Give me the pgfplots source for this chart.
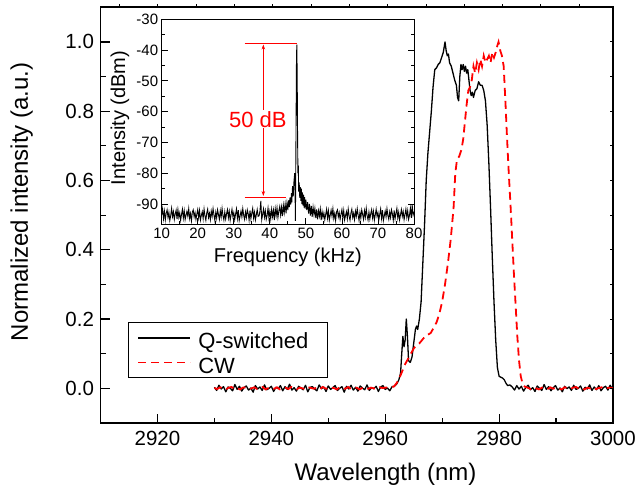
\documentclass[border=0pt]{standalone}
\usepackage{fontspec}
\setmainfont{Liberation Sans}
\usepackage{pgfplots}
\pgfplotsset{compat=1.18}
\usetikzlibrary{arrows.meta}

\newcommand{\tickfont}{\fontsize{20.5pt}{24pt}\selectfont}
\newcommand{\labfont}{\fontsize{24pt}{28pt}\selectfont}
\newcommand{\legfont}{\fontsize{22pt}{26pt}\selectfont}
\newcommand{\itickfont}{\fontsize{15pt}{18pt}\selectfont}
\newcommand{\ilabfont}{\fontsize{20pt}{24pt}\selectfont}
\newcommand{\legtext}[1]{\makebox[128pt][l]{\rule[-5.65pt]{0pt}{28.7pt}\hspace*{7pt}#1}}

\begin{document}
\begin{tikzpicture}
% main spectrum
\begin{axis}[
    at={(0pt,0pt)}, anchor=south west,
    scale only axis, width=512.5pt, height=415.7pt,
    xmin=2910, xmax=3000, ymin=-0.1, ymax=1.1,
    xtick={2920,2940,2960,2980,3000},
    ytick={0,0.2,0.4,0.6,0.8,1.0},
    minor x tick num=1, minor y tick num=1,
    xtick pos=bottom, ytick pos=left,
    tick align=inside,
    major tick length=9pt, minor tick length=5pt,
    tick style={black, line width=1.2pt},
    axis line style={line width=1.6pt},
    /pgf/number format/assume math mode=true,
    xticklabel style={font=\tickfont, yshift=-5pt, /pgf/number format/1000 sep={}},
    yticklabel style={font=\tickfont, xshift=-3pt, /pgf/number format/fixed,
        /pgf/number format/fixed zerofill, /pgf/number format/precision=1},
    xlabel={Wavelength (nm)}, ylabel={Normalized intensity (a.u.)},
    label style={font=\labfont},
    xlabel style={at={(axis description cs:0.556,-0.1245)}, anchor=center},
    ylabel style={at={(axis description cs:-0.1538,0.532)}, anchor=center},
    legend style={at={(axis description cs:0.0542,0.1075)}, anchor=south west,
        draw=black, line width=1pt, font=\legfont, inner xsep=8.7pt, inner ysep=2.95pt,
        row sep=0pt, nodes={inner sep=0pt}},
    legend cell align=left,
    legend image code/.code={\draw[#1] (0pt,0pt) -- (52pt,0pt);},
]
\addplot[black, line width=1.3pt, line join=round] coordinates {
(2930.0,0.003) (2930.4,-0.006) (2930.8,0.009) (2931.2,-0.002) (2931.6,0.005)
(2932.0,-0.010) (2932.4,0.004) (2932.8,0.000) (2933.2,-0.007) (2933.6,0.011)
(2934.0,-0.003) (2934.4,0.006) (2934.8,-0.008) (2935.2,0.002) (2935.6,0.007)
(2936.0,-0.005) (2936.4,0.001) (2936.8,-0.011) (2937.2,0.008) (2937.6,-0.002)
(2938.0,0.004) (2938.4,-0.006) (2938.8,0.010) (2939.2,-0.004) (2939.6,0.000)
(2940.0,0.006) (2940.4,-0.009) (2940.8,0.003) (2941.2,-0.001) (2941.6,0.008)
(2942.0,-0.007) (2942.4,0.005) (2942.8,-0.003) (2943.2,0.012) (2943.6,-0.005)
(2944.0,0.002) (2944.4,-0.008) (2944.8,0.006) (2945.2,0.001) (2945.6,-0.004)
(2946.0,0.009) (2946.4,-0.010) (2946.8,0.003) (2947.2,0.005) (2947.6,-0.002)
(2948.0,-0.007) (2948.4,0.010) (2948.8,-0.001) (2949.2,0.004) (2949.6,-0.009)
(2950.0,0.007) (2950.4,-0.003) (2950.8,0.002) (2951.2,0.008) (2951.6,-0.006)
(2952.0,0.000) (2952.4,0.005) (2952.8,-0.011) (2953.2,0.006) (2953.6,-0.002)
(2954.0,0.009) (2954.4,-0.005) (2954.8,0.003) (2955.2,-0.008) (2955.6,0.007)
(2956.0,0.001) (2956.4,-0.004) (2956.8,0.010) (2957.2,-0.006) (2957.6,0.002)
(2958.0,-0.001) (2958.4,0.006) (2958.8,-0.009) (2959.2,0.004) (2959.6,0.008)
(2960.0,-0.003) (2960.4,0.001) (2960.8,-0.007) (2961.2,0.005)
(2961.6,0.006) (2962.0,0.012) (2962.4,0.025) (2962.7,0.045) (2962.9,0.10)
(2963.1,0.15) (2963.3,0.12) (2963.5,0.14) (2963.7,0.20) (2963.9,0.15)
(2964.1,0.08) (2964.4,0.075) (2964.7,0.09) (2965.0,0.13) (2965.3,0.17)
(2965.5,0.18) (2965.7,0.17) (2966.0,0.20) (2966.3,0.25) (2966.6,0.36)
(2966.9,0.47) (2967.2,0.60) (2967.5,0.68) (2967.8,0.74) (2968.1,0.80)
(2968.4,0.87) (2968.7,0.92) (2969.0,0.925) (2969.3,0.935) (2969.6,0.94)
(2969.9,0.955) (2970.2,0.97) (2970.5,1.00) (2970.7,0.975) (2970.9,0.96)
(2971.1,0.965) (2971.3,0.94) (2971.6,0.93) (2971.9,0.91) (2972.2,0.89)
(2972.5,0.875) (2972.7,0.84) (2972.9,0.83) (2973.1,0.90) (2973.3,0.935)
(2973.5,0.92) (2973.7,0.935) (2973.9,0.915) (2974.1,0.93) (2974.3,0.91)
(2974.5,0.92) (2974.7,0.89) (2974.9,0.86) (2975.1,0.845) (2975.3,0.855)
(2975.5,0.84) (2975.8,0.86) (2976.1,0.865) (2976.4,0.885) (2976.7,0.875)
(2977.0,0.875) (2977.3,0.86) (2977.6,0.83) (2977.9,0.76) (2978.2,0.65)
(2978.5,0.52) (2978.8,0.38) (2979.1,0.25) (2979.4,0.14) (2979.7,0.06)
(2980.0,0.035) (2980.3,0.032) (2980.6,0.03) (2980.9,0.025) (2981.2,0.015)
(2981.5,0.008)
(2981.9,0.010) (2982.3,0.004) (2982.7,-0.005) (2983.1,0.008) (2983.5,-0.002)
(2983.9,0.006) (2984.3,-0.008) (2984.7,0.003) (2985.1,0.009) (2985.5,-0.004)
(2985.9,0.002) (2986.3,-0.009) (2986.7,0.007) (2987.1,0.000) (2987.5,-0.006)
(2987.9,0.011) (2988.3,-0.003) (2988.7,0.005) (2989.1,-0.007) (2989.5,0.002)
(2989.9,0.008) (2990.3,-0.005) (2990.7,0.001) (2991.1,-0.010) (2991.5,0.006)
(2991.9,-0.001) (2992.3,0.004) (2992.7,-0.006) (2993.1,0.009) (2993.5,-0.003)
(2993.9,0.000) (2994.3,0.007) (2994.7,-0.008) (2995.1,0.003) (2995.5,-0.002)
(2995.9,0.010) (2996.3,-0.006) (2996.7,0.004) (2997.1,-0.004) (2997.5,0.008)
(2997.9,-0.007) (2998.3,0.002) (2998.7,0.006) (2999.1,-0.005) (2999.5,0.009)
(2999.9,-0.002)
};
\addlegendentry{\legtext{Q-switched}}
\addplot[red, line width=1.8pt, dash pattern=on 8pt off 5pt] coordinates {
(2930,0.001) (2930.5,-0.002) (2931,0.003) (2931.5,0.000) (2932,-0.003)
(2932.5,0.002) (2933,0.004) (2933.5,-0.001) (2934,0.001) (2934.5,-0.003)
(2935,0.002) (2935.5,0.003) (2936,-0.002) (2936.5,0.000) (2937,0.003)
(2937.5,-0.002) (2938,0.001) (2938.5,0.004) (2939,-0.003) (2939.5,0.001)
(2940,0.002) (2940.5,-0.001) (2941,0.003) (2941.5,-0.003) (2942,0.000)
(2942.5,0.002) (2943,-0.002) (2943.5,0.004) (2944,0.001) (2944.5,-0.002)
(2945,0.002) (2945.5,0.000) (2946,-0.003) (2946.5,0.003) (2947,0.001)
(2947.5,-0.001) (2948,0.002) (2948.5,-0.003) (2949,0.004) (2949.5,0.000)
(2950,-0.002) (2950.5,0.002) (2951,0.001) (2951.5,-0.003) (2952,0.003)
(2952.5,0.000) (2953,-0.001) (2953.5,0.004) (2954,-0.002) (2954.5,0.001)
(2955,0.002) (2955.5,-0.003) (2956,0.001) (2956.5,0.003) (2957,-0.001)
(2957.5,0.002) (2958,0.000) (2958.5,-0.002) (2959,0.003) (2959.5,0.001)
(2960,0.002) (2960.5,0.003) (2961,0.004)
(2961.5,0.005) (2962.0,0.015) (2962.5,0.03) (2963.0,0.05) (2963.5,0.07)
(2964.0,0.085) (2964.5,0.10) (2965.0,0.115) (2965.5,0.125) (2966.0,0.13)
(2966.5,0.14) (2967.0,0.15) (2967.5,0.155) (2968.0,0.16) (2968.5,0.175)
(2969.0,0.19) (2969.5,0.215) (2970.0,0.25) (2970.5,0.30) (2971.0,0.36)
(2971.5,0.43) (2972.0,0.52) (2972.3,0.62) (2972.6,0.66) (2973.0,0.67)
(2973.4,0.69) (2973.7,0.72) (2974.0,0.77) (2974.3,0.82) (2974.6,0.86)
(2974.9,0.87) (2975.2,0.89) (2975.5,0.93) (2975.8,0.91) (2976.1,0.94)
(2976.4,0.92) (2976.7,0.95) (2977.0,0.93) (2977.3,0.96) (2977.6,0.94)
(2977.9,0.95) (2978.2,0.96) (2978.5,0.94) (2978.8,0.97) (2979.1,0.955)
(2979.4,0.97) (2979.7,0.99) (2979.9,1.00) (2980.2,0.975) (2980.5,0.96)
(2980.8,0.93) (2981.1,0.83) (2981.4,0.72) (2981.7,0.62) (2982.0,0.53)
(2982.3,0.43) (2982.6,0.33) (2982.9,0.24) (2983.2,0.15) (2983.5,0.08)
(2983.8,0.035) (2984.1,0.015) (2984.5,0.005)
(2985,0.002) (2985.5,-0.002) (2986,0.003) (2986.5,0.000) (2987,-0.003)
(2987.5,0.002) (2988,0.001) (2988.5,-0.002) (2989,0.003) (2989.5,-0.001)
(2990,0.002) (2990.5,0.000) (2991,-0.003) (2991.5,0.003) (2992,0.001)
(2992.5,-0.002) (2993,0.002) (2993.5,0.004) (2994,-0.001) (2994.5,0.001)
(2995,-0.003) (2995.5,0.002) (2996,0.000) (2996.5,0.003) (2997,-0.002)
(2997.5,0.001) (2998,0.003) (2998.5,-0.002) (2999,0.001) (2999.5,0.002)
(3000,0.000)
};
\addlegendentry{\legtext{CW}}
\end{axis}

% small ticks on the top edge
\begin{axis}[
    at={(0pt,0pt)}, anchor=south west,
    scale only axis, width=512.5pt, height=415.7pt,
    xmin=0, xmax=512.5, ymin=0, ymax=1,
    axis x line*=top, axis line style={draw=none},
    xtick={19.1,57.4,95.7,134,172.3,210.6,248.9,287.2,325.5,363.8,402.1,440.4,478.7},
    xticklabels={}, ytick=\empty,
    tick align=outside, major tick length=3pt,
    tick style={black, line width=1pt},
]
\end{axis}

% short ticks on the right edge
\begin{axis}[
    at={(0pt,0pt)}, anchor=south west,
    scale only axis, width=512.5pt, height=415.7pt,
    xmin=0, xmax=1, ymin=-0.1, ymax=1.1,
    axis y line*=right, axis line style={draw=none},
    ytick={0,0.1,0.2,0.3,0.4,0.5,0.6,0.7,0.8,0.9,1.0},
    yticklabels={}, xtick=\empty,
    tick align=inside, major tick length=3.5pt,
    tick style={black, line width=1pt},
]
\end{axis}

% inset: RF spectrum
\begin{axis}[
    at={(61.2pt,199pt)}, anchor=south west,
    scale only axis, width=252.3pt, height=204.7pt,
    xmin=10, xmax=80, ymin=-96.5, ymax=-30,
    xtick={10,20,30,40,50,60,70,80},
    ytick={-90,-80,-70,-60,-50,-40,-30},
    minor x tick num=1, minor y tick num=1,
    xtick pos=bottom, ytick pos=both,
    tick align=inside,
    major tick length=6pt, minor tick length=3pt,
    tick style={black, line width=0.8pt},
    axis line style={line width=1pt},
    axis background/.style={fill=white},
    /pgf/number format/assume math mode=true,
    ticklabel style={font=\itickfont},
    xlabel={Frequency (kHz)}, ylabel={Intensity (dBm)},
    label style={font=\ilabfont},
    xlabel style={at={(axis description cs:0.5,-0.161)}, anchor=center},
    ylabel style={at={(axis description cs:-0.1653,0.518)}, anchor=center},
]
\draw[red, line width=0.8pt] (axis cs:33,-37.8) -- (axis cs:47.6,-37.8);
\draw[red, line width=0.8pt] (axis cs:33,-87.8) -- (axis cs:44.6,-87.8);
\draw[red, line width=0.6pt, {Stealth[length=5pt,width=3.5pt]}-{Stealth[length=5pt,width=3.5pt]}]
    (axis cs:38.2,-38.2) -- (axis cs:38.2,-87.4);
\node[red, fill=white, inner sep=1pt, font=\legfont] at (axis cs:36.7,-62.5) {50 dB};
\addplot[black, line width=0.9pt] coordinates {
(10.00,-93.5) (10.25,-91.6) (10.50,-94.8) (10.75,-92.3) (11.00,-95.2)
(11.25,-93.0) (11.50,-91.9) (11.75,-94.4) (12.00,-92.7) (12.25,-95.4)
(12.50,-93.8) (12.75,-91.4) (13.00,-94.1) (13.25,-92.5) (13.50,-95.0)
(13.75,-93.2) (14.00,-92.0) (14.25,-94.9) (14.50,-91.8) (14.75,-94.3)
(15.00,-92.9) (15.25,-95.3) (15.50,-93.4) (15.75,-91.7) (16.00,-94.6)
(16.25,-92.2) (16.50,-95.1) (16.75,-93.6) (17.00,-92.4) (17.25,-94.0)
(17.50,-91.5) (17.75,-94.7) (18.00,-93.1) (18.25,-95.5) (18.50,-92.6)
(18.75,-91.9) (19.00,-94.2) (19.25,-92.8) (19.50,-95.0) (19.75,-93.3)
(20.00,-91.8) (20.25,-94.5) (20.50,-92.1) (20.75,-95.2) (21.00,-93.7)
(21.25,-92.5) (21.50,-94.8) (21.75,-91.6) (22.00,-93.9) (22.25,-95.3)
(22.50,-92.9) (22.75,-91.7) (23.00,-94.4) (23.25,-93.0) (23.50,-95.1)
(23.75,-92.3) (24.00,-94.0) (24.25,-91.5) (24.50,-93.6) (24.75,-95.4)
(25.00,-92.7) (25.25,-94.6) (25.50,-91.9) (25.75,-93.4) (26.00,-95.0)
(26.25,-92.2) (26.50,-94.3) (26.75,-91.4) (27.00,-93.8) (27.25,-95.2)
(27.50,-92.6) (27.75,-94.9) (28.00,-93.1) (28.25,-91.8) (28.50,-94.5)
(28.75,-92.4) (29.00,-95.3) (29.25,-93.5) (29.50,-91.7) (29.75,-94.1)
(30.00,-92.8) (30.25,-95.1) (30.50,-93.3) (30.75,-91.6) (31.00,-94.7)
(31.25,-92.0) (31.50,-95.4) (31.75,-93.9) (32.00,-92.3) (32.25,-94.2)
(32.50,-91.5) (32.75,-93.7) (33.00,-95.0) (33.25,-92.6) (33.50,-94.4)
(33.75,-91.9) (34.00,-93.2) (34.25,-95.3) (34.50,-92.1) (34.75,-94.8)
(35.00,-93.0) (35.25,-91.4) (35.50,-94.6) (35.75,-92.7) (36.00,-95.2)
(36.25,-93.5) (36.50,-91.8) (36.75,-94.0) (37.00,-93.9) (37.25,-92.4)
(37.50,-89.0) (37.75,-95.1) (38.00,-93.4) (38.25,-91.6) (38.50,-94.3)
(38.75,-92.2) (39.00,-95.0) (39.25,-93.7) (39.50,-91.3) (39.75,-94.5)
(40.00,-92.4) (40.25,-94.8) (40.50,-91.7) (40.75,-94.1) (41.00,-92.0)
(41.25,-95.2) (41.50,-91.5) (41.75,-93.8) (42.00,-91.2) (42.25,-94.4)
(42.50,-92.3) (42.75,-90.8) (43.00,-93.6) (43.25,-91.0) (43.50,-93.9)
(43.75,-90.4) (44.00,-92.8) (44.25,-90.0) (44.50,-93.0) (44.75,-89.6)
(45.00,-92.0) (45.20,-88.8) (45.40,-91.0) (45.60,-87.9) (45.80,-90.2)
(46.00,-86.5) (46.10,-89.5) (46.30,-84.2) (46.50,-87.5) (46.70,-82.5)
(46.90,-80.0) (47.00,-86.0) (47.10,-95.5) (47.20,-78.0) (47.30,-60.0)
(47.40,-42.0) (47.50,-38.2) (47.60,-50.0) (47.70,-68.0) (47.80,-80.0)
(47.90,-77.5) (48.00,-86.0) (48.15,-83.0) (48.30,-88.0) (48.45,-84.5)
(48.60,-89.0) (48.75,-85.0) (48.90,-90.0) (49.05,-86.2) (49.20,-90.5)
(49.35,-87.0) (49.50,-91.2) (49.65,-87.8) (49.80,-91.5) (50.00,-88.6)
(50.25,-92.0) (50.50,-89.4) (50.75,-93.1) (51.00,-90.0) (51.25,-93.8)
(51.50,-90.6) (51.75,-94.2) (52.00,-91.0) (52.25,-93.5) (52.50,-91.4)
(52.75,-94.6) (53.00,-91.8) (53.25,-95.0) (53.50,-92.2) (53.75,-94.0)
(54.00,-91.6) (54.25,-95.2) (54.50,-92.5) (54.75,-94.4)
(55.00,-92.9) (55.25,-95.1) (55.50,-93.4) (55.75,-91.7) (56.00,-94.6)
(56.25,-92.2) (56.50,-95.3) (56.75,-93.6) (57.00,-92.0) (57.25,-94.0)
(57.50,-91.5) (57.75,-94.7) (58.00,-93.1) (58.25,-95.4) (58.50,-92.6)
(58.75,-91.9) (59.00,-94.2) (59.25,-92.8) (59.50,-95.0) (59.75,-93.3)
(60.00,-91.8) (60.25,-94.5) (60.50,-92.1) (60.75,-95.2) (61.00,-93.7)
(61.25,-92.5) (61.50,-94.8) (61.75,-91.6) (62.00,-93.9) (62.25,-95.3)
(62.50,-92.9) (62.75,-91.7) (63.00,-94.4) (63.25,-93.0) (63.50,-95.1)
(63.75,-92.3) (64.00,-94.0) (64.25,-91.5) (64.50,-93.6) (64.75,-95.4)
(65.00,-92.7) (65.25,-94.6) (65.50,-91.9) (65.75,-93.4) (66.00,-95.0)
(66.25,-92.2) (66.50,-94.3) (66.75,-91.4) (67.00,-93.8) (67.25,-95.2)
(67.50,-92.6) (67.75,-94.9) (68.00,-93.1) (68.25,-91.8) (68.50,-94.5)
(68.75,-92.4) (69.00,-95.3) (69.25,-93.5) (69.50,-91.7) (69.75,-94.1)
(70.00,-92.8) (70.25,-95.1) (70.50,-93.3) (70.75,-91.6) (71.00,-94.7)
(71.25,-92.0) (71.50,-95.4) (71.75,-93.9) (72.00,-92.3) (72.25,-94.2)
(72.50,-91.5) (72.75,-93.7) (73.00,-95.0) (73.25,-92.6) (73.50,-94.4)
(73.75,-91.9) (74.00,-93.2) (74.25,-95.3) (74.50,-92.1) (74.75,-94.8)
(75.00,-93.0) (75.25,-91.4) (75.50,-94.6) (75.75,-92.7) (76.00,-95.2)
(76.25,-93.5) (76.50,-91.8) (76.75,-94.0) (77.00,-92.4) (77.25,-95.1)
(77.50,-93.4) (77.75,-91.6) (78.00,-94.3) (78.25,-92.2) (78.50,-95.0)
(78.75,-93.7) (79.00,-91.3) (79.25,-94.5) (79.50,-90.4) (79.75,-93.6)
(80.00,-92.5)
};
\end{axis}

\pgfresetboundingbox
\useasboundingbox (-100.5pt,-67pt) rectangle (535.5pt,423pt);
\end{tikzpicture}
\end{document}
